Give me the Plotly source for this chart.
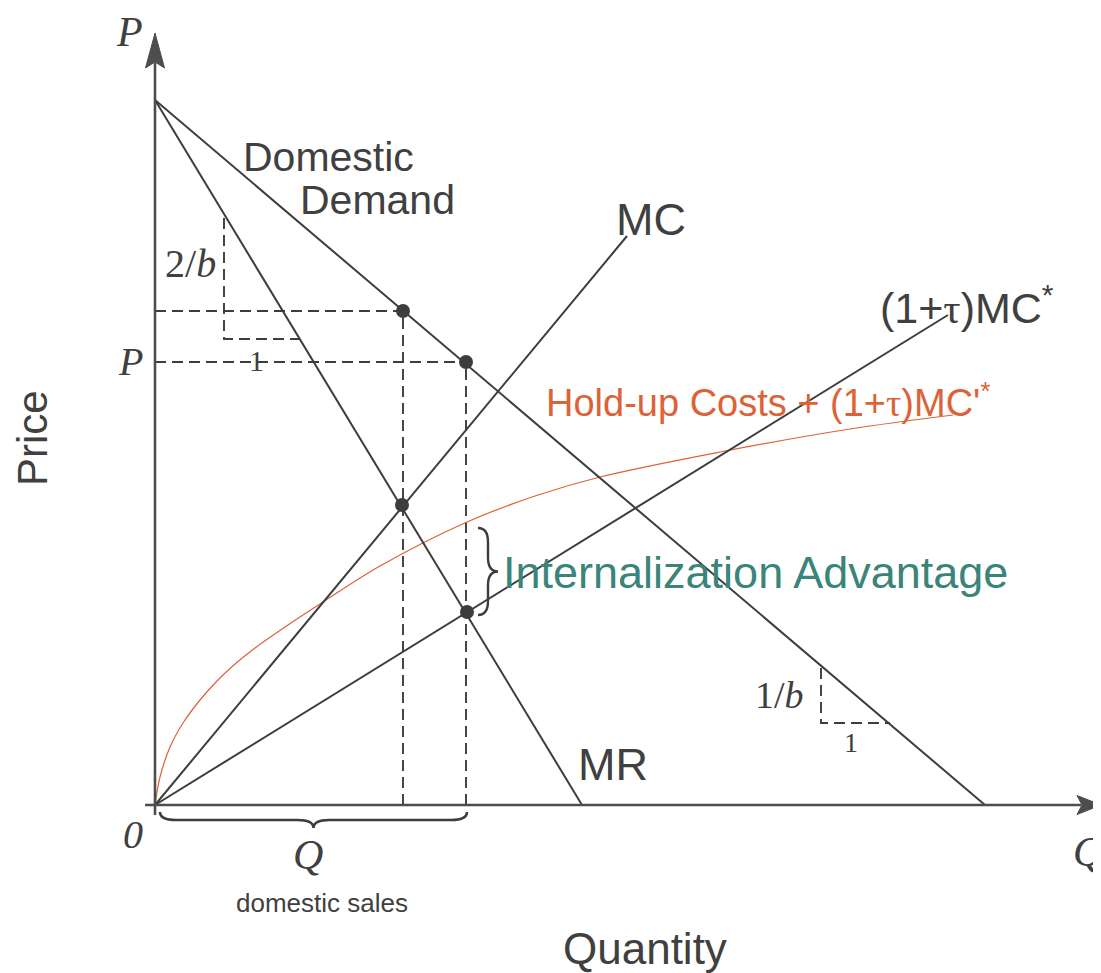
import plotly.graph_objects as go

# ---------------- data (chart units) ----------------
demand_q = [0.0, 83.0]
demand_p = [70.5, 0.0]
mr_q = [0.0, 42.7]
mr_p = [70.5, 0.0]
mc_q = [0.0, 47.2]
mc_p = [0.0, 56.9]
mcstar_q = [0.0, 79.3]
mcstar_p = [0.0, 49.0]
holdup_q = [0.0, 0.5, 1.5, 2.8, 4.5, 6.2, 8.0, 10.0, 13.0, 16.8, 22.5, 31.2, 38.0, 44.5, 56.5, 69.5, 79.8]
holdup_p = [0.0, 2.8, 5.8, 8.2, 10.5, 12.4, 14.1, 15.7, 17.8, 20.3, 23.9, 28.3, 30.9, 32.8, 35.3, 37.6, 39.0]
dots_q = [24.8, 31.1, 24.7, 31.2]
dots_p = [49.4, 44.3, 30.0, 19.3]
price_levels = [49.4, 44.3]
qty_levels = [24.8, 31.1]
tri_mr = dict(q0=6.9, q1=14.5, p_top=58.7, p_corner=46.6)
tri_d = dict(q0=66.6, q1=73.5, p_top=13.7, p_corner=8.2)

DARK = "#3d3d3d"
AXC = "#4d4d4d"
ORANGE = "#dc6238"
TEAL = "#3a8479"
TXT = "#404040"
SANS = "Liberation Sans, Arial, sans-serif"
SERIF = "Liberation Serif, Times New Roman, serif"

fig = go.Figure()

def line(x, y, color=DARK, width=2.0, dash="solid", shape="linear"):
    fig.add_trace(go.Scatter(x=x, y=y, mode="lines", hoverinfo="skip",
                             line=dict(color=color, width=width, dash=dash, shape=shape),
                             showlegend=False))

DASH = "11px,6px"
# dashed guides
for p, q in zip(price_levels, qty_levels):
    line([0, q], [p, p], width=1.9, dash=DASH)
    line([q, q], [0, p], width=1.9, dash=DASH)
# slope triangles
line([tri_mr["q0"], tri_mr["q0"], tri_mr["q1"]],
     [tri_mr["p_top"], tri_mr["p_corner"], tri_mr["p_corner"]], width=1.9, dash=DASH)
line([tri_d["q0"], tri_d["q0"], tri_d["q1"]],
     [tri_d["p_top"], tri_d["p_corner"], tri_d["p_corner"]], width=1.9, dash=DASH)

# curves
line(holdup_q, holdup_p, color=ORANGE, width=1.2, shape="spline")
line(demand_q, demand_p)
line(mr_q, mr_p)
line(mc_q, mc_p)
line(mcstar_q, mcstar_p)

# axes
line([-1.0, 92.6], [0, 0], color=AXC, width=2.6)
line([0, 0], [-1.0, 74.2], color=AXC, width=2.6)

fig.add_trace(go.Scatter(x=dots_q, y=dots_p, mode="markers", hoverinfo="skip",
                         marker=dict(size=14, color=DARK), showlegend=False))

shapes = []
# arrowheads
shapes.append(dict(type="path", xref="x", yref="y",
                   path="M 0,77.2 L 0.95,73.7 L 0,74.3 L -0.95,73.7 Z",
                   fillcolor=AXC, line=dict(color=AXC, width=1)))
shapes.append(dict(type="path", xref="x", yref="y",
                   path="M 94.6,0 L 92.2,0.95 L 92.7,0 L 92.2,-0.95 Z",
                   fillcolor=AXC, line=dict(color=AXC, width=1)))

def hbrace(x0, x1, y, d, e):
    xm = (x0 + x1) / 2
    h = y - d / 2
    return (f"M {x0},{y} Q {x0},{h} {x0+e},{h} L {xm-e},{h} Q {xm},{h} {xm},{y-d} "
            f"Q {xm},{h} {xm+e},{h} L {x1-e},{h} Q {x1},{h} {x1},{y}")

def vbrace(y0, y1, x, d, e):
    ym = (y0 + y1) / 2
    w = x + d / 2
    return (f"M {x},{y0} Q {w},{y0} {w},{y0-e} L {w},{ym+e} Q {w},{ym} {x+d},{ym} "
            f"Q {w},{ym} {w},{ym-e} L {w},{y1+e} Q {w},{y1} {x},{y1}")

shapes.append(dict(type="path", xref="x", yref="y", path=hbrace(0.5, 31.2, -0.7, 1.6, 1.6),
                   line=dict(color=DARK, width=2.6)))
shapes.append(dict(type="path", xref="x", yref="y", path=vbrace(27.7, 19.0, 32.3, 2.0, 1.4),
                   line=dict(color=DARK, width=2.4)))

ann = []
def text(x, y, s, size, color=TXT, family=SANS, angle=0):
    ann.append(dict(x=x, y=y, xref="x", yref="y", text=s, showarrow=False,
                    xanchor="center", yanchor="middle", textangle=angle,
                    font=dict(size=size, color=color, family=family)))

TAU = "<span style='font-family:Liberation Serif'>τ</span>"
text(-2.6, 77.3, "<i>P</i>", 42, family=SERIF)
text(-2.5, 44.4, "<i>P</i>", 40, family=SERIF)
text(-2.2, -2.9, "<i>0</i>", 40, family=SERIF)
text(15.3, -5.0, "<i>Q</i>", 42, family=SERIF)
text(93.3, -4.7, "<i>Q</i>", 42, family=SERIF)
text(16.7, -9.8, "domestic sales", 26)
text(-12.3, 36.7, "Price", 42, angle=-90)
text(49.0, -14.3, "Quantity", 44)
text(17.3, 64.8, "Domestic", 41)
text(22.2, 60.5, "Demand", 41)
text(49.6, 58.6, "MC", 45)
text(45.8, 4.1, "MR", 45)
text(81.2, 50.0, f"(1+{TAU})MC<sup>*</sup>", 43)
text(61.3, 40.5, f"Hold-up Costs + (1+{TAU})MC'<sup>*</sup>", 38, color=ORANGE)
text(60.0, 23.3, "Internalization Advantage", 45, color=TEAL)
text(3.5, 54.2, "2/<i>b</i>", 40, family=SERIF)
text(10.1, 44.5, "1", 30, family=SERIF)
text(62.4, 11.0, "1/<i>b</i>", 38, family=SERIF)
text(69.6, 6.3, "1", 28, family=SERIF)

# The page body has an 8px margin, so the figure starts at (8, 8) of the window.
fig.update_layout(
    width=1093, height=965, autosize=False,
    margin=dict(l=0, r=0, t=0, b=0),
    paper_bgcolor="white", plot_bgcolor="white",
    xaxis=dict(range=[-14.7, 94.6], visible=False, fixedrange=True),
    yaxis=dict(range=[-16.8, 79.7], visible=False, fixedrange=True),
    shapes=shapes, annotations=ann, showlegend=False,
)

fig.write_html("out.html")
